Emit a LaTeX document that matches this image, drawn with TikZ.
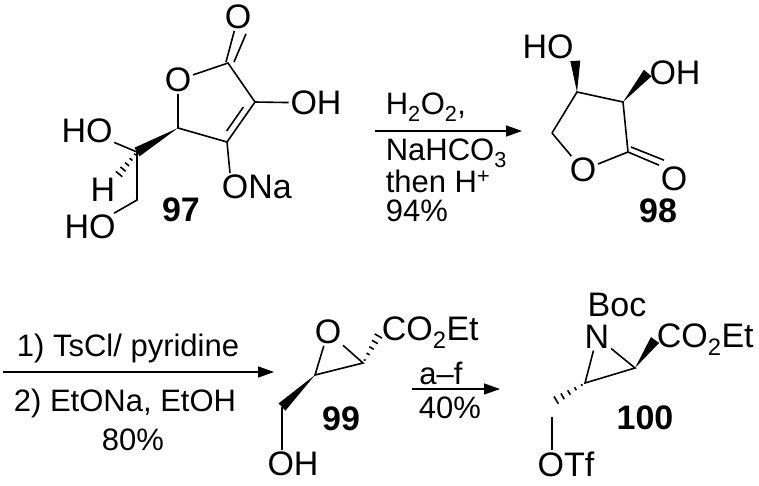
\documentclass[tikz,border=0pt]{standalone}
\usepackage{fontspec}
\setmainfont{Liberation Sans}
\usetikzlibrary{calc,arrows.meta}
\newcommand{\wedgeb}[2]{\fill ($(#1)$) -- ($(#2)!5pt!90:(#1)$) -- ($(#2)!5pt!-90:(#1)$) -- cycle;}
\newcommand{\hashb}[2]{\foreach \t [evaluate=\t as \w using 0.6+4*\t] in {0.1,0.3,0.5,0.7,0.9}{\draw[line width=1.6pt] ($(#1)!\t!(#2)!\w pt!90:(#2)$) -- ($(#1)!\t!(#2)!\w pt!-90:(#2)$);}}
\begin{document}
\begin{tikzpicture}[x=1pt,y=-1pt,line width=1.6pt,
  atom/.style={font=\fontsize{34}{36}\selectfont,inner sep=1pt},
  lab/.style={font=\fontsize{34}{36}\selectfont\bfseries,inner sep=0pt},
  cond/.style={font=\fontsize{31}{33}\selectfont,inner sep=0pt},
  rxn/.style={-{Triangle[length=16pt,width=11pt]},line width=1.4pt}]
\useasboundingbox (0,0) rectangle (759,485);
% ---- 97
\node[atom] (o1) at (178,80) {O};
\coordinate (c2) at (228,63);
\coordinate (c3) at (255,102);
\coordinate (c4) at (227,142);
\coordinate (c5) at (178,128);
\node[atom] (o2) at (238,17) {O};
\node[atom] (oh3) at (316,103) {OH};
\node[atom,anchor=west] (ona) at (220,187) {ONa};
\coordinate (c6) at (137,152);
\coordinate (c7) at (137,200);
\node[atom] (ho6) at (87,131) {HO};
\node[atom] (h6) at (103,190) {H};
\node[atom] (ho7) at (90,227) {HO};
\node[lab] (l97) at (181,210) {97};
\draw (o1) -- (c2) -- (c3) -- (c4) -- (c5) -- (o1);
\draw ($(c3)!0.2!(c4)+(-6,-3)$) -- ($(c3)!0.8!(c4)+(-6,-3)$);
\draw ($(c2)+(-2,-1)$) -- (o2);
\draw ($(c2)+(6,-1)$) -- ($(o2.south)+(8,3)$);
\draw (c3) -- (oh3);
\draw (c4) -- ($(ona.north west)+(10,0)$);
\wedgeb{c5}{c6}
\draw (c6) -- (ho6);
\hashb{c6}{h6.north east}
\draw (c6) -- (c7) -- (ho7);
% ---- arrow 1
\coordinate (a1s) at (375,131);
\coordinate (a1e) at (522,131);
\draw[rxn] (a1s) -- (a1e);
\node[cond,anchor=west] (t1) at (385,107) {H\textsubscript{2}O\textsubscript{2},};
\node[cond,anchor=west] (t2) at (385,153) {NaHCO\textsubscript{3}};
\node[cond,anchor=west] (t3) at (385,181) {then H\textsuperscript{+}};
\node[cond,anchor=west] (t4) at (385,211) {94\%};
% ---- 98
\coordinate (d3) at (577,92);
\coordinate (d2) at (623,102);
\coordinate (d1) at (628,152);
\coordinate (d4) at (552,133);
\node[atom] (do) at (583,170) {O};
\node[atom] (dho) at (548,47) {HO};
\node[atom] (doh) at (675,73) {OH};
\node[atom] (dco) at (674,179) {O};
\node[lab] (l98) at (658,211) {98};
\draw (d4) -- (d3) -- (d2) -- (d1) -- (do) -- (d4);
\wedgeb{d3}{dho.south east}
\wedgeb{d2}{doh.west}
\draw (d1) -- (dco.north west);
\draw ($(d1)+(3,-5)$) -- ($(dco.north west)+(5,-5)$);
% ---- arrow 2
\coordinate (a2s) at (3,372);
\coordinate (a2e) at (274,372);
\draw[rxn] (a2s) -- (a2e);
\node[cond] (u1) at (128,348) {1) TsCl/ pyridine};
\node[cond] (u2) at (125,403) {2) EtONa, EtOH};
\node[cond] (u3) at (133,440) {80\%};
% ---- 99
\node[atom] (eo) at (328,332) {O};
\coordinate (e1) at (315,375);
\coordinate (e2) at (363,363);
\node[atom,anchor=west] (eco) at (380,333) {CO\textsubscript{2}Et};
\coordinate (e3) at (282,407);
\node[atom] (eoh) at (293,464) {OH};
\node[lab] (l99) at (341,419) {99};
\draw (eo) -- (e1) -- (e2) -- (eo);
\hashb{e2}{eco.west}
\wedgeb{e1}{e3}
\draw (e3) -- (eoh.north -| e3);
% ---- arrow 3
\coordinate (a3s) at (412,389);
\coordinate (a3e) at (500,389);
\draw[rxn] (a3s) -- (a3e);
\node[cond] (v1) at (441,373) {a–f};
\node[cond] (v2) at (450,408) {40\%};
% ---- 100
\node[atom] (boc) at (617,305) {Boc};
\node[atom] (fn) at (597,337) {N};
\coordinate (f1) at (585,383);
\coordinate (f2) at (635,368);
\node[atom,anchor=west] (fco) at (655,340) {CO\textsubscript{2}Et};
\coordinate (f3) at (553,402);
\coordinate (f4) at (552,417);
\node[atom] (fotf) at (566,464) {OTf};
\node[lab] (l100) at (645,418) {100};
\draw (fn) -- (f1) -- (f2) -- (fn);
\wedgeb{f2}{fco.west}
\hashb{f1}{f3}
\draw (f4) -- (fotf.north -| f4);
\end{tikzpicture}
\end{document}
